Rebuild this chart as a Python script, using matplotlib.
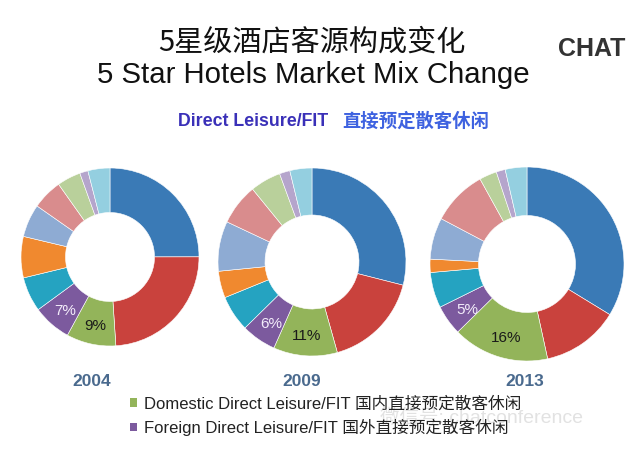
import matplotlib
matplotlib.use("Agg")
import matplotlib.pyplot as plt
from matplotlib.patches import Patch
import numpy as np

# ---- data ----
years = ["2004", "2009", "2013"]
segments = ["Corporate", "Group", "Domestic Direct Leisure/FIT", "Foreign Direct Leisure/FIT",
            "Seg5", "Seg6", "Seg7", "Seg8", "Seg9", "Seg10", "Seg11"]
share_2004 = [25.0, 24.0, 9.0, 7.0, 6.3, 7.5, 6.0, 5.5, 4.3, 1.5, 4.0]
share_2009 = [29.0, 16.7, 11.0, 6.0, 6.2, 4.6, 8.6, 7.1, 5.3, 1.8, 3.8]
share_2013 = [33.6, 12.8, 16.0, 5.0, 5.9, 2.2, 6.9, 9.2, 2.9, 1.5, 3.6]
shares = [share_2004, share_2009, share_2013]
pct_labels = [["9%", "7%"], ["11%", "6%"], ["16%", "5%"]]
legend_labels = ["Domestic Direct Leisure/FIT 国内直接预定散客休闲",
                 "Foreign Direct Leisure/FIT 国外直接预定散客休闲"]

colors = ["#3A7AB6", "#C9423D", "#93B45A", "#7C5A9E", "#25A3C1", "#F0892F",
          "#8EABD3", "#D98C8D", "#B9D09B", "#B5A5CC", "#94CFE0"]

# ---- layout (image pixel coords) ----
W, H = 640, 451
centers = [(110, 257), (312, 262), (527, 264)]
radii = [89, 94, 97]
year_x = [92, 302, 525]
year_y = 381

fig = plt.figure(figsize=(6.4, 4.51), dpi=100)
ax = fig.add_axes([0, 0, 1, 1])

LAT = ["Liberation Sans", "Noto Sans CJK SC", "DejaVu Sans"]
CJK = ["Noto Sans CJK SC", "Liberation Sans", "DejaVu Sans"]

def Y(y):
    return H - y

for i, (vals, (cx, cy), R) in enumerate(zip(shares, centers, radii)):
    wedges, _ = ax.pie(vals, colors=colors, startangle=90, counterclock=False,
                       center=(cx, Y(cy)), radius=R,
                       wedgeprops=dict(width=R * 0.5, edgecolor="white", linewidth=0.4))
    for k, (idx, col) in enumerate([(2, "#1a1a1a"), (3, "#F3ECFA")]):
        w = wedges[idx]
        ang = np.deg2rad((w.theta1 + w.theta2) / 2)
        rm = R * 0.76
        ax.text(cx + rm * np.cos(ang), Y(cy) + rm * np.sin(ang) - 3, pct_labels[i][k],
                ha="center", va="center", fontsize=11, color=col, family=LAT)
    ax.text(year_x[i], Y(year_y), years[i], ha="center", va="center",
            fontsize=12.5, fontweight="bold", color="#4A6A8E", family=LAT)

ax.set_xlim(0, W)
ax.set_ylim(0, H)
ax.set_aspect("equal")
ax.axis("off")

# ---- titles ----
ax.text(312, Y(43), "5星级酒店客源构成变化", ha="center", va="center",
        fontsize=21, color="#111111", family=CJK)
ax.text(313, Y(75), "5 Star Hotels Market Mix Change", ha="center", va="center",
        fontsize=21.2, color="#111111", family=LAT)
ax.text(178, Y(121), "Direct Leisure/FIT", ha="left", va="center",
        fontsize=12.8, fontweight="bold", color="#3A30B8", family=LAT)
ax.text(342, Y(121), "直接预定散客休闲", ha="left", va="center",
        fontsize=13.2, fontweight="bold", color="#3E62E0", family=CJK)

# logo text
ax.text(592, Y(49), "CHAT", ha="center", va="center", fontsize=18,
        fontweight="bold", color="#333333", family=LAT)

# watermark
ax.text(380, Y(418), "微信号: chatconference", ha="left", va="center",
        fontsize=14, color="#E2E2E2", family=LAT, zorder=0)

# ---- legend ----
handles = [Patch(facecolor=colors[2]), Patch(facecolor=colors[3])]
leg = ax.legend(handles=handles, labels=legend_labels, loc="upper left",
                bbox_to_anchor=(130 / W, 1 - 396 / H), bbox_transform=fig.transFigure,
                frameon=False, handlelength=0.4, handleheight=0.4, handletextpad=0.45,
                labelspacing=0.45, borderaxespad=0, borderpad=0,
                prop=dict(family=LAT, size=12))
for t in leg.get_texts():
    t.set_color("#222222")

fig.savefig("out.png", dpi=100)
